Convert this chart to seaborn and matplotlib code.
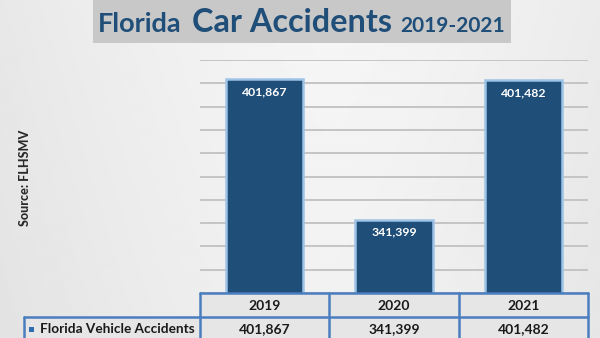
import numpy as np
import pandas as pd
import matplotlib
matplotlib.use("Agg")
import matplotlib.pyplot as plt
import matplotlib.transforms as mtransforms
from matplotlib.lines import Line2D
from matplotlib.patches import Rectangle
import seaborn as sns

# ---- data ----
years = ["2019", "2020", "2021"]
accidents = [401867, 341399, 401482]
series_name = "Florida Vehicle Accidents"
title_parts = ["Florida", "Car Accidents", "2019-2021"]
source_text = "Source: FLHSMV"
y_min, y_max, y_step = 310000, 410000, 10000

sns.set_theme(style="white")
plt.rcParams['font.family'] = ['Lato', 'DejaVu Sans']

W, H = 600, 338
fig = plt.figure(figsize=(W / 100, H / 100), dpi=100)

def fx(px):
    return px / W

def fy(py):
    return 1 - py / H

# background gradient
bg = fig.add_axes([0, 0, 1, 1], zorder=-10)
xs = np.linspace(0, 1, 300)
ys = np.linspace(0, 1, 200)
X, Y = np.meshgrid(xs, ys)
val = 0.965 - 0.12 * np.abs(X - 0.55) ** 1.3 - 0.02 * Y
bg.imshow(val, cmap="gray", vmin=0, vmax=1, aspect="auto", extent=[0, 1, 0, 1], origin="upper")
bg.set_axis_off()

# main axes
ax = fig.add_axes([fx(200), fy(293), fx(588) - fx(200), fy(60) - fy(293)])
ax.set_facecolor("none")
df = pd.DataFrame({"year": years, "accidents": accidents})
sns.barplot(data=df, x="year", y="accidents", ax=ax, color="#1F4E79", saturation=1,
            width=0.6, edgecolor="#9DC3E6", linewidth=1.8, zorder=3)
ax.set_ylim(y_min, y_max)
ax.set_xlim(-0.5, 2.5)
ax.set_yticks(np.arange(y_min, y_max + 1, y_step))
ax.yaxis.grid(True, color="#C4C4C4", linewidth=1.4)
ax.set_axisbelow(True)
ax.tick_params(left=False, bottom=False, labelleft=False, labelbottom=False)
ax.set_xlabel("")
ax.set_ylabel("")
for s in ax.spines.values():
    s.set_visible(False)

for p, v in zip(ax.patches, accidents):
    ax.annotate(f"{v:,}", (p.get_x() + p.get_width() / 2, p.get_height()),
                xytext=(0, -9), textcoords="offset points", ha="center", va="center",
                color="white", fontweight="bold", fontsize=8.8, zorder=5)

# title box
fig.add_artist(Rectangle((fx(93), fy(43)), fx(511) - fx(93), fy(0) - fy(43),
                         transform=fig.transFigure, facecolor="#C8C8C8", edgecolor="none", zorder=1))
tcol = "#1F4E79"
fig.text(fx(98), fy(32), title_parts[0], fontsize=19.5, fontweight="bold", color=tcol, va="baseline", zorder=2)
fig.text(fx(192), fy(32), title_parts[1], fontsize=23.3, fontweight="bold", color=tcol, va="baseline", zorder=2)
fig.text(fx(400), fy(32), title_parts[2], fontsize=15, fontweight="bold", color=tcol, va="baseline", zorder=2)

# source
fig.text(fx(25), fy(178), source_text, rotation=90, fontsize=9, fontweight="black",
         color="#2A2A2A", ha="center", va="center")

# data table
bc = "#4A7EBE"
blend = mtransforms.blended_transform_factory(ax.transData, fig.transFigure)
lw = 1.8
fig.add_artist(Rectangle((fx(200), 0), fx(588) - fx(200), fy(293), transform=fig.transFigure,
                         facecolor="#E6E6E6", edgecolor="none", zorder=0.5))
fig.add_artist(Rectangle((fx(24), 0), fx(200) - fx(24), fy(317), transform=fig.transFigure,
                         facecolor="#E6E6E6", edgecolor="none", zorder=0.5))
fig.add_artist(Line2D([fx(200), fx(588)], [fy(293), fy(293)], color=bc, lw=lw, transform=fig.transFigure))
fig.add_artist(Line2D([fx(24), fx(588)], [fy(317), fy(317)], color=bc, lw=lw, transform=fig.transFigure))
for xb in [-0.5, 0.5, 1.5, 2.5]:
    fig.add_artist(Line2D([xb, xb], [fy(293), 0], color=bc, lw=lw, transform=blend))
fig.add_artist(Line2D([fx(24), fx(24)], [fy(317), 0], color=bc, lw=lw, transform=fig.transFigure))

for i, (yr, v) in enumerate(zip(years, accidents)):
    fig.text(i, fy(306), yr, transform=blend, ha="center", va="center",
             fontsize=10, fontweight="bold", color="#1A1A1A")
    fig.text(i, fy(329), f"{v:,}", transform=blend, ha="center", va="center",
             fontsize=10, fontweight="bold", color="#1A1A1A")

fig.add_artist(Rectangle((fx(28.5), fy(331.5)), fx(5), fy(0) - fy(5), transform=fig.transFigure,
                         facecolor="#2E6DB0", edgecolor="none"))
fig.text(fx(40), fy(329), series_name, ha="left", va="center", fontsize=9.8,
         fontweight="bold", color="#1A1A1A")

fig.savefig("out.png", dpi=100)
